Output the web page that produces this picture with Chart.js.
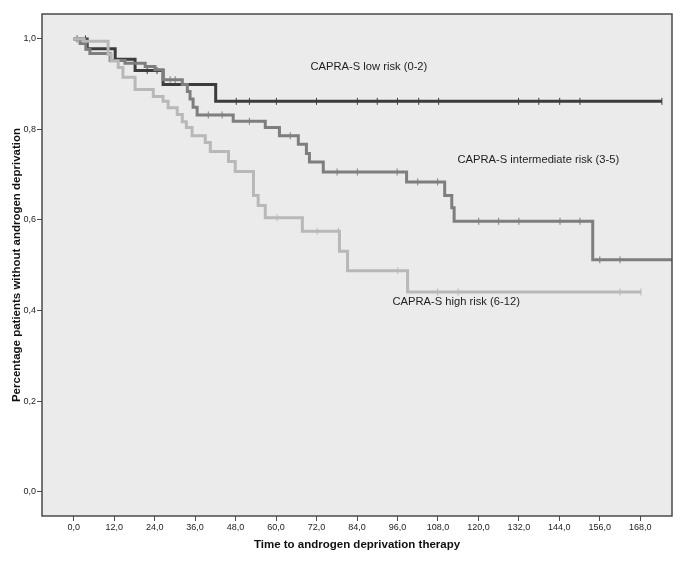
<!DOCTYPE html>
<html><head><meta charset="utf-8">
<script src="https://cdn.jsdelivr.net/npm/chart.js@4/dist/chart.umd.min.js"></script>
<style>html,body{margin:0;padding:0;background:#fff}canvas{display:block}</style>
</head><body>
<canvas id="c" width="700" height="577"></canvas>
<script>
// ---- data (months, survival proportion) ----
const lowTime  = [0, 4.0, 12.3, 18.2, 26.5, 42.1, 174.4];
const lowSurv  = [1.0, 0.978, 0.955, 0.930, 0.899, 0.862, 0.862];
const lowCens  = [1.0, 3.5, 21.8, 24.7, 48.2, 52.1, 60.1, 72.0, 84.1, 90.0, 96.0, 102.3, 108.2, 131.9, 137.9, 144.1, 150.1, 174.4];

const midTime  = [0, 1.9, 3.6, 4.8, 10.8, 15.2, 21.2, 24.1, 26.5, 32.2, 33.7, 34.5, 35.4, 36.6, 47.3, 56.8, 61.0, 66.6, 69.0, 69.9, 74.0, 98.7, 110.0, 112.1, 112.8, 153.9, 177.4];
const midSurv  = [1.0, 0.990, 0.977, 0.968, 0.952, 0.946, 0.939, 0.932, 0.910, 0.899, 0.884, 0.867, 0.849, 0.832, 0.818, 0.804, 0.786, 0.767, 0.747, 0.728, 0.706, 0.684, 0.654, 0.627, 0.597, 0.512, 0.512];
const midCens  = [28.6, 30.1, 39.9, 44.0, 52.1, 64.2, 78.1, 84.1, 95.9, 102.0, 107.9, 120.1, 126.0, 132.0, 144.2, 150.1, 156.0, 162.0];

const highTime = [0, 3.1, 10.2, 11.1, 13.2, 14.6, 18.2, 23.6, 26.5, 28.0, 30.7, 32.2, 33.4, 35.1, 39.0, 40.5, 45.9, 47.9, 53.3, 54.7, 56.8, 67.8, 78.8, 81.2, 99.0, 168.2];
const highSurv = [1.0, 0.995, 0.966, 0.951, 0.937, 0.915, 0.888, 0.873, 0.862, 0.848, 0.833, 0.817, 0.804, 0.786, 0.771, 0.751, 0.729, 0.707, 0.654, 0.632, 0.605, 0.575, 0.531, 0.488, 0.441, 0.441];
const highCens = [1.0, 60.3, 72.2, 78.5, 96.1, 107.9, 114.0, 162.0, 168.2];

const xTicks = [0, 12, 24, 36, 48, 60, 72, 84, 96, 108, 120, 132, 144, 156, 168];
const yTicks = [0, 0.2, 0.4, 0.6, 0.8, 1.0];

const seriesLabels = ['CAPRA-S low risk (0-2)', 'CAPRA-S intermediate risk (3-5)', 'CAPRA-S high risk (6-12)'];
const labelTime = [70.2, 113.8, 94.5];
const labelSurv = [0.937, 0.733, 0.419];

const colors = ['#3c3c3c', '#7e7e7e', '#b8b8b8'];

// ---- helpers ----
function pts(t, s) { return t.map((v, i) => ({x: v, y: s[i]})); }
function survAt(t, s, at) { let v = s[0]; for (let i = 0; i < t.length; i++) if (t[i] <= at) v = s[i]; return v; }
function censPts(t, s, c) { return c.map(v => ({x: v, y: survAt(t, s, v)})); }
function fmt(v) { return v.toFixed(1).replace('.', ','); }

const groups = [[lowTime, lowSurv, lowCens], [midTime, midSurv, midCens], [highTime, highSurv, highCens]];
const datasets = [];
// draw high first so darker curves sit on top
[2, 1, 0].forEach(g => {
  const [t, s, c] = groups[g];
  datasets.push({data: pts(t, s), showLine: true, stepped: true, borderColor: colors[g], borderWidth: 3,
    pointRadius: 0, fill: false});
  datasets.push({data: censPts(t, s, c), showLine: false, pointStyle: 'line', rotation: 90, pointRadius: 3.5,
    borderColor: colors[g], borderWidth: 1, pointHoverRadius: 0});
});

const frame = {
  id: 'frame',
  beforeDraw(chart) {
    const {ctx, chartArea: a} = chart;
    ctx.save(); ctx.fillStyle = '#ebebeb'; ctx.fillRect(a.left, a.top, a.right - a.left, a.bottom - a.top); ctx.restore();
  },
  afterDatasetsDraw(chart) {
    const {ctx, chartArea: a, scales} = chart;
    ctx.save();
    ctx.font = '11.2px "Liberation Sans", Arial, sans-serif';
    ctx.fillStyle = '#1e1e1e'; ctx.textBaseline = 'middle'; ctx.textAlign = 'left';
    seriesLabels.forEach((txt, i) => ctx.fillText(txt, scales.x.getPixelForValue(labelTime[i]), scales.y.getPixelForValue(labelSurv[i])));
    ctx.strokeStyle = '#4a4a4a'; ctx.lineWidth = 1.5;
    ctx.strokeRect(a.left, a.top, a.right - a.left, a.bottom - a.top);
    ctx.restore();
  }
};

new Chart(document.getElementById('c'), {
  type: 'scatter',
  data: {datasets},
  plugins: [frame],
  options: {
    responsive: false, animation: false, devicePixelRatio: 1,
    layout: {padding: {top: 14, right: 28, left: 0, bottom: 0}},
    plugins: {legend: {display: false}, tooltip: {enabled: false}},
    scales: {
      x: {
        type: 'linear', min: -9.4, max: 177.4,
        afterBuildTicks: s => { s.ticks = xTicks.map(v => ({value: v})); },
        afterFit: s => { s.height = 61; },
        ticks: {callback: v => fmt(v), font: {family: '"Liberation Sans", Arial, sans-serif', size: 9}, color: '#222', padding: 1, maxRotation: 0, autoSkip: false},
        grid: {drawOnChartArea: false, drawTicks: true, tickLength: 5, color: '#4a4a4a'},
        border: {display: false},
        title: {display: true, text: 'Time to androgen deprivation therapy', color: '#111',
          font: {family: '"Liberation Sans", Arial, sans-serif', size: 11.5, weight: 'bold'}, padding: {top: 0, bottom: 25}}
      },
      y: {
        type: 'linear', min: -0.054, max: 1.055,
        afterBuildTicks: s => { s.ticks = yTicks.map(v => ({value: v})); },
        afterFit: s => { s.width = 42; },
        ticks: {callback: v => fmt(v), font: {family: '"Liberation Sans", Arial, sans-serif', size: 9}, color: '#222', padding: 1, autoSkip: false},
        grid: {drawOnChartArea: false, drawTicks: true, tickLength: 5, color: '#4a4a4a'},
        border: {display: false},
        title: {display: true, text: 'Percentage patients without androgen deprivation', color: '#111',
          font: {family: '"Liberation Sans", Arial, sans-serif', size: 11.5, weight: 'bold'}, padding: {top: 10, bottom: 0}}
      }
    }
  }
});
</script>
</body></html>
